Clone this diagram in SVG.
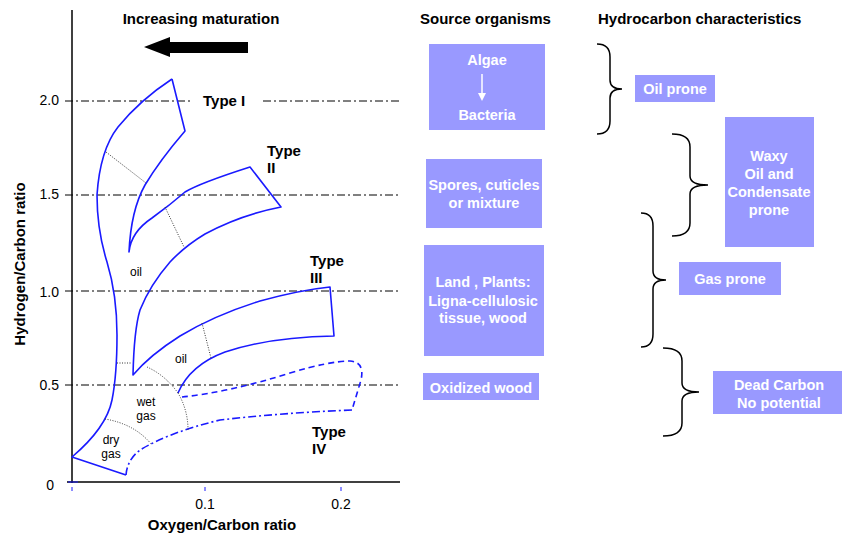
<svg xmlns="http://www.w3.org/2000/svg" width="842" height="535" viewBox="0 0 842 535">
<style>
text{font-family:"Liberation Sans",Arial,Helvetica,sans-serif;fill:#000}
.b{font-weight:bold;font-size:15px}
.n{font-size:14px}
.s{font-size:12px}
.w{font-weight:bold;font-size:14.5px;fill:#fff;text-anchor:middle}
.box{fill:#9999ff}
.grid{stroke:#000;stroke-width:1;stroke-dasharray:8 3 2 3;fill:none}
.blue{stroke:#1a1aff;stroke-width:1.6;fill:none;stroke-linejoin:round}
.dash{stroke:#1a1aff;stroke-width:1.6;fill:none;stroke-dasharray:6 4}
.dd{stroke:#1a1aff;stroke-width:1.6;fill:none;stroke-dasharray:8 3 2 3}
.dot{stroke:#333;stroke-width:1;fill:none;stroke-dasharray:1 1.5}
.brace{stroke:#000;stroke-width:1.5;fill:none}
</style>
<rect width="842" height="535" fill="#fff"/>
<g id="axes">
<line x1="72" y1="10" x2="72" y2="483" stroke="#000" stroke-width="1.5"/>
<line x1="67" y1="482" x2="400" y2="482" stroke="#000" stroke-width="1.5"/>
<path class="grid" d="M65,101H192M263,101H400M65,195H400M65,291H400M65,385H400"/>
<path d="M72,487V491M205,487V491M341,487V491M68,482H78" stroke="#1a1aff" stroke-width="1"/>
<text class="n" x="59" y="105" text-anchor="end">2.0</text>
<text class="n" x="59" y="199" text-anchor="end">1.5</text>
<text class="n" x="59" y="297" text-anchor="end">1.0</text>
<text class="n" x="59" y="390" text-anchor="end">0.5</text>
<text class="n" x="54" y="490" text-anchor="end">0</text>
<text class="n" x="205" y="509" text-anchor="middle">0.1</text>
<text class="n" x="341" y="509" text-anchor="middle">0.2</text>
<text class="b" x="222" y="530" text-anchor="middle">Oxygen/Carbon ratio</text>
<text class="b" transform="translate(25,264) rotate(-90)" text-anchor="middle">Hydrogen/Carbon ratio</text>
</g>
<g id="maturation">
<text class="b" x="201" y="24" text-anchor="middle">Increasing maturation</text>
<polygon points="144,47 170,37 170,42 248,42 248,53 170,53 170,57" fill="#000"/>
</g>
<g id="curves">
<path class="blue" d="M172,79 Q140,100 118,127 Q100,150 97,195 Q97,230 107,262 Q117,295 117,335 Q117,375 112,400 C108,420 92,440 72,457 L126,475"/>
<path class="blue" d="M172,79 L185,131 Q160,160 145,185 Q131,210 129,252 Q131,232 152,218 Q170,205 185,192 Q200,183 250,167 L281,207 Q240,215 205,234 Q185,246 170,262 Q150,285 140,310 Q134,330 133,375 Q150,355 180,336 Q215,315 260,301 Q300,290 330,287 L334,336 Q270,337 225,352 Q190,365 178,393"/>
<path class="dash" d="M182,397 Q230,392 290,373 Q330,361 350,361 Q365,362 361,380 L352,410"/>
<path class="dd" d="M352,410 Q280,413 220,420 Q170,432 140,450 Q127,460 126,475"/>
<path class="dot" d="M106,152L146,183M165,207L184,247M202,323L211,358M117,363H131M147,367Q165,375 178,393M178,393Q188,410 188,430M105,419Q135,424 152,445"/>
</g>
<g id="labels">
<text class="b" x="203" y="106">Type I</text>
<text class="b" x="267" y="156">Type</text>
<text class="b" x="267" y="173">II</text>
<text class="b" x="310" y="266">Type</text>
<text class="b" x="310" y="283">III</text>
<text class="b" x="312" y="437">Type</text>
<text class="b" x="312" y="454">IV</text>
<text class="s" x="136" y="276" text-anchor="middle">oil</text>
<text class="s" x="181" y="363" text-anchor="middle">oil</text>
<text class="s" x="146" y="406" text-anchor="middle">wet</text>
<text class="s" x="146" y="420" text-anchor="middle">gas</text>
<text class="s" x="111" y="444" text-anchor="middle">dry</text>
<text class="s" x="111" y="458" text-anchor="middle">gas</text>
</g>
<g id="headers">
<text class="b" x="420" y="24">Source organisms</text>
<text class="b" x="598" y="24">Hydrocarbon characteristics</text>
</g>
<g id="algae">
<rect class="box" x="429" y="44" width="116" height="86"/>
<text class="w" x="487" y="65">Algae</text>
<line x1="482" y1="74" x2="482" y2="94" stroke="#fff" stroke-width="1.5"/>
<polygon points="478,93 486,93 482,101" fill="#fff"/>
<text class="w" x="487" y="120">Bacteria</text>
</g>
<g id="spores">
<rect class="box" x="426" y="159" width="116" height="69"/>
<text class="w" x="484" y="190">Spores, cuticles</text>
<text class="w" x="484" y="208">or mixture</text>
</g>
<g id="land">
<rect class="box" x="424" y="245" width="120" height="111"/>
<text class="w" x="483" y="287">Land , Plants:</text>
<text class="w" x="483" y="306">Ligna-cellulosic</text>
<text class="w" x="483" y="323">tissue, wood</text>
</g>
<g id="oxidized">
<rect class="box" x="423" y="373" width="116" height="27"/>
<text class="w" x="481" y="393">Oxidized wood</text>
</g>
<g id="oilprone">
<rect class="box" x="635" y="75" width="80" height="27"/>
<text class="w" x="675" y="94">Oil prone</text>
</g>
<g id="waxy">
<rect class="box" x="725" y="117" width="89" height="130"/>
<text class="w" x="769" y="161">Waxy</text>
<text class="w" x="769" y="179">Oil and</text>
<text class="w" x="769" y="197">Condensate</text>
<text class="w" x="769" y="215">prone</text>
</g>
<g id="gasprone">
<rect class="box" x="679" y="262" width="102" height="33"/>
<text class="w" x="730" y="284">Gas prone</text>
</g>
<g id="deadcarbon">
<rect class="box" x="713" y="371" width="129" height="43"/>
<text class="w" x="779" y="390">Dead Carbon</text>
<text class="w" x="779" y="408">No potential</text>
</g>
<g id="braces">
<path class="brace" d="M597,44 Q610,44 610,57 L610,80 Q610,89 622,89 Q610,89 610,98 L610,121 Q610,134 597,134"/>
<path class="brace" d="M672,134 Q690,134 690,147 L690,176 Q690,185 708,185 Q690,185 690,194 L690,223 Q690,236 672,236"/>
<path class="brace" d="M641,213 Q653,213 653,226 L653,271 Q653,280 666,280 Q653,280 653,289 L653,334 Q653,347 641,347"/>
<path class="brace" d="M663,348 Q682,348 682,361 L682,383 Q682,392 699,392 Q682,392 682,401 L682,423 Q682,436 663,436"/>
</g>
</svg>
